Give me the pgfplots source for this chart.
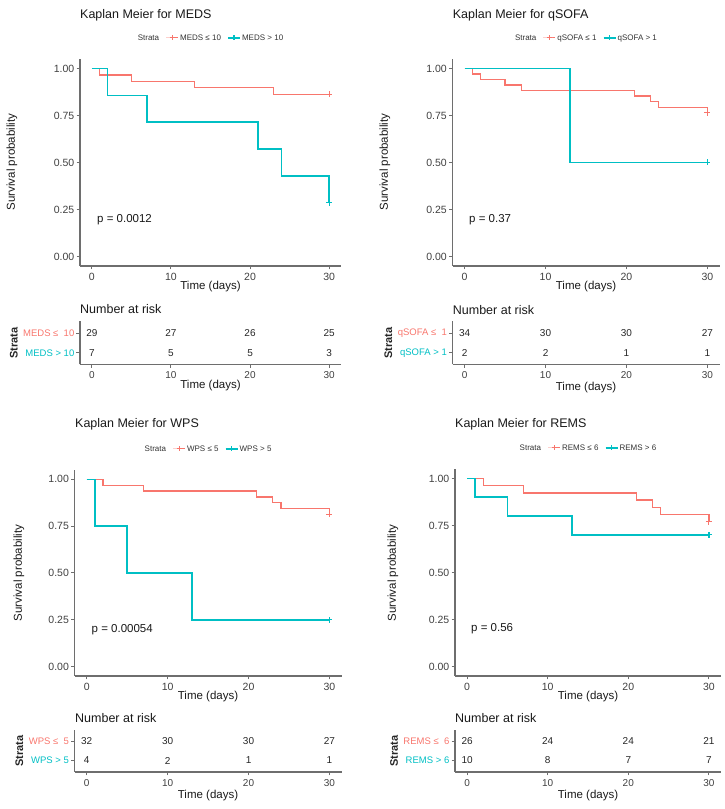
\documentclass[border=0pt]{standalone}
\usepackage{fontspec}
\setmainfont{Liberation Sans}
\usepackage{pgfplots}
\pgfplotsset{compat=1.18}
\definecolor{kmred}{HTML}{F8766D}
\definecolor{kmcyan}{HTML}{00BFC4}
\definecolor{axgray}{HTML}{6E6E6E}
\newcommand{\fT}{\fontsize{12.5}{15}\selectfont}
\newcommand{\fL}{\fontsize{11.5}{14}\selectfont}
\pgfplotsset{
  kmbase/.style={
    scale only axis, clip=false,
    axis x line*=bottom, axis y line*=left,
    axis line style={axgray, line width=1.2pt},
    xmin=-1.5, xmax=31.5,
    xtick={0,10,20,30},
    tick align=outside, major tick length=3.5pt,
    major tick style={axgray, line width=1pt},
    /pgf/number format/assume math mode=true,
    yticklabel style={inner sep=2pt},
  },
  km/.style={kmbase,
    ymin=-0.05, ymax=1.05,
    ytick={0,0.25,0.5,0.75,1}, yticklabels={0.00,0.25,0.50,0.75,1.00},
    tick label style={font=\fontsize{10.5}{12}\selectfont, text=black!75},
    legend columns=-1,
    legend style={at={(0.5,1)}, anchor=center, yshift=21pt, draw=none, fill=none,
      font=\fontsize{8}{9.5}\selectfont, text=black!80, inner sep=0pt,
      nodes={inner sep=1.5pt},
      /tikz/every even column/.append style={column sep=5pt}},
    legend image code/.code={\draw[mark repeat=2,mark phase=2,##1] plot coordinates {(0pt,0pt) (6pt,0pt) (12pt,0pt)};},
  },
  red line/.style={kmred, line width=1.25pt, const plot, mark=none, forget plot},
  cyan line/.style={kmcyan, line width=1.5pt, const plot, mark=none, forget plot},
  red cens/.style={kmred, only marks, mark=+, mark size=3pt, line width=1.1pt, forget plot},
  cyan cens/.style={kmcyan, only marks, mark=+, mark size=3pt, line width=1.2pt, forget plot},
  red leg/.style={kmred, line width=1pt, mark=+, mark size=2.5pt},
  cyan leg/.style={kmcyan, line width=1.1pt, mark=+, mark size=2.5pt},
  risk/.style={kmbase,
    ymin=0.4, ymax=2.6, ytick={1,2},
    x tick label style={font=\fontsize{10}{12}\selectfont, text=black!75},
    y tick label style={font=\fontsize{9.5}{11}\selectfont},
    ylabel={Strata}, ylabel style={font=\bfseries\fontsize{11}{13}\selectfont, text=black!85},
    point meta=explicit symbolic,
  },
  risknum/.style={draw=none, mark=none, nodes near coords,
    every node near coord/.append style={anchor=center, font=\fontsize{10}{12}\selectfont, text=black!85}},
}
\begin{document}
\begin{tikzpicture}[x=1pt,y=1pt]
\path[use as bounding box] (0,0) rectangle (725,809);

% ---------------- MEDS ----------------
\begin{axis}[km, at={(80pt,543pt)}, anchor=south west, width=261pt, height=207pt]
\addlegendimage{empty legend}\addlegendentry{Strata}
\addlegendimage{red leg}\addlegendentry{MEDS ≤ 10}
\addlegendimage{cyan leg}\addlegendentry{MEDS > 10}
\addplot[red line] coordinates {(0,1) (1,0.9655) (5,0.9310) (13,0.8966) (23,0.8621) (30,0.8621)};
\addplot[red cens] coordinates {(30,0.8621)};
\addplot[cyan line] coordinates {(0,1) (2,0.8571) (7,0.7143) (21,0.5714) (24,0.4286) (30,0.2857)};
\addplot[cyan cens] coordinates {(30,0.2857)};
\end{axis}
\begin{axis}[risk, at={(80pt,444.5pt)}, anchor=south west, width=261pt, height=43pt,
  yticklabels={\textcolor{kmcyan}{MEDS > 10},\textcolor{kmred}{MEDS ≤\ \ 10}}]
\addplot[risknum] coordinates {(0,2)[29] (10,2)[27] (20,2)[26] (30,2)[25] (0,1)[7] (10,1)[5] (20,1)[5] (30,1)[3]};
\end{axis}

% ---------------- qSOFA ----------------
\begin{axis}[km, at={(452.5pt,543pt)}, anchor=south west, width=267pt, height=207pt]
\addlegendimage{empty legend}\addlegendentry{Strata}
\addlegendimage{red leg}\addlegendentry{qSOFA ≤ 1}
\addlegendimage{cyan leg}\addlegendentry{qSOFA > 1}
\addplot[red line] coordinates {(0,1) (1,0.9706) (2,0.9412) (5,0.9118) (7,0.8824) (21,0.8529) (23,0.8235) (24,0.7941) (30,0.7647)};
\addplot[red cens] coordinates {(30,0.7647)};
\addplot[cyan line] coordinates {(0,1) (13,0.5) (30,0.5)};
\addplot[cyan cens] coordinates {(30,0.5)};
\end{axis}
\begin{axis}[risk, at={(452.5pt,444.5pt)}, anchor=south west, width=267pt, height=43pt,
  yticklabels={\textcolor{kmcyan}{qSOFA > 1},\textcolor{kmred}{qSOFA ≤\ \ 1}}]
\addplot[risknum] coordinates {(0,2)[34] (10,2)[30] (20,2)[30] (30,2)[27] (0,1)[2] (10,1)[2] (20,1)[1] (30,1)[1]};
\end{axis}

% ---------------- WPS ----------------
\begin{axis}[km, at={(74.6pt,133pt)}, anchor=south west, width=267pt, height=206pt]
\addlegendimage{empty legend}\addlegendentry{Strata}
\addlegendimage{red leg}\addlegendentry{WPS ≤ 5}
\addlegendimage{cyan leg}\addlegendentry{WPS > 5}
\addplot[red line] coordinates {(0,1) (2,0.9688) (7,0.9375) (21,0.9063) (23,0.875) (24,0.8438) (30,0.8125)};
\addplot[red cens] coordinates {(30,0.8125)};
\addplot[cyan line] coordinates {(0,1) (1,0.75) (5,0.5) (13,0.25) (30,0.25)};
\addplot[cyan cens] coordinates {(30,0.25)};
\end{axis}
\begin{axis}[risk, at={(74.6pt,37pt)}, anchor=south west, width=267pt, height=42pt,
  yticklabels={\textcolor{kmcyan}{WPS > 5},\textcolor{kmred}{WPS ≤\ \ 5}}]
\addplot[risknum] coordinates {(0,2)[32] (10,2)[30] (20,2)[30] (30,2)[27] (0,1)[4] (10,1)[2] (20,1)[1] (30,1)[1]};
\end{axis}

% ---------------- REMS ----------------
\begin{axis}[km, at={(455pt,133pt)}, anchor=south west, width=266pt, height=207pt]
\addlegendimage{empty legend}\addlegendentry{Strata}
\addlegendimage{red leg}\addlegendentry{REMS ≤ 6}
\addlegendimage{cyan leg}\addlegendentry{REMS > 6}
\addplot[red line] coordinates {(0,1) (2,0.9615) (7,0.9231) (21,0.8846) (23,0.8462) (24,0.8077) (30,0.7692)};
\addplot[red cens] coordinates {(30,0.7692)};
\addplot[cyan line] coordinates {(0,1) (1,0.9) (5,0.8) (13,0.7) (30,0.7)};
\addplot[cyan cens] coordinates {(30,0.7)};
\end{axis}
\begin{axis}[risk, at={(455pt,37pt)}, anchor=south west, width=266pt, height=42pt,
  yticklabels={\textcolor{kmcyan}{REMS > 6},\textcolor{kmred}{REMS ≤\ \ 6}}]
\addplot[risknum] coordinates {(0,2)[26] (10,2)[24] (20,2)[24] (30,2)[21] (0,1)[10] (10,1)[8] (20,1)[7] (30,1)[7]};
\end{axis}

% ---------------- texts ----------------
\begin{scope}[every node/.style={inner sep=0pt, text=black!90}]
\node[anchor=west, font=\fT] at (80,794) {Kaplan Meier for MEDS};
\node[anchor=west, font=\fT] at (452.7,794) {Kaplan Meier for qSOFA};
\node[anchor=west, font=\fT] at (75,384.5) {Kaplan Meier for WPS};
\node[anchor=west, font=\fT] at (455,384.5) {Kaplan Meier for REMS};

\node[rotate=90, font=\fL] at (12,647) {Survival probability};
\node[rotate=90, font=\fL] at (385,647) {Survival probability};
\node[rotate=90, font=\fL] at (19,236) {Survival probability};
\node[rotate=90, font=\fL] at (393,236) {Survival probability};

\node[font=\fL] at (210.5,522) {Time (days)};
\node[font=\fL] at (586,522) {Time (days)};
\node[font=\fL] at (208,112) {Time (days)};
\node[font=\fL] at (588,112) {Time (days)};

\node[anchor=west, font=\fT] at (80,500) {Number at risk};
\node[anchor=west, font=\fT] at (452.7,499) {Number at risk};
\node[anchor=west, font=\fT] at (75,91) {Number at risk};
\node[anchor=west, font=\fT] at (455,91) {Number at risk};

\node[font=\fL] at (210.5,423) {Time (days)};
\node[font=\fL] at (586,421) {Time (days)};
\node[font=\fL] at (208,13) {Time (days)};
\node[font=\fL] at (588,13) {Time (days)};

\node[anchor=west, font=\fL] at (97,589) {p = 0.0012};
\node[anchor=west, font=\fL] at (469,589) {p = 0.37};
\node[anchor=west, font=\fL] at (91.5,179) {p = 0.00054};
\node[anchor=west, font=\fL] at (471,180) {p = 0.56};
\end{scope}
\end{tikzpicture}
\end{document}
